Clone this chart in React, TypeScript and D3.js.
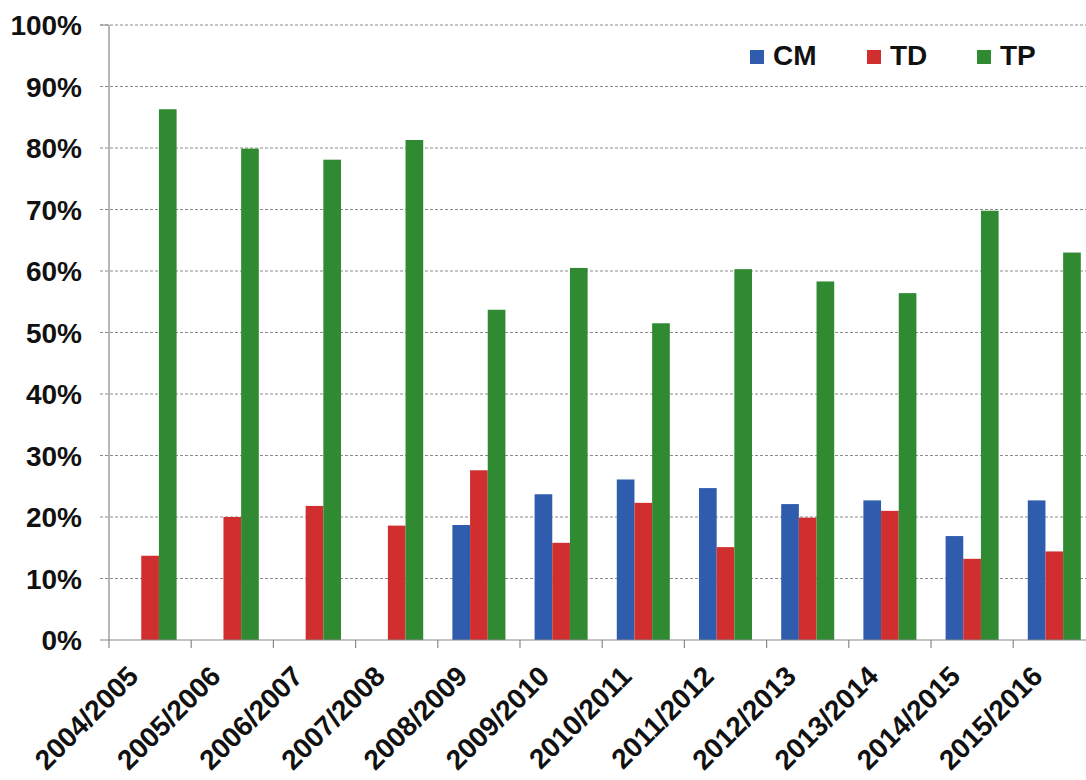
import React, { useEffect, useRef } from "react";
import * as d3 from "d3";

const categories = ["2004/2005","2005/2006","2006/2007","2007/2008","2008/2009","2009/2010","2010/2011","2011/2012","2012/2013","2013/2014","2014/2015","2015/2016"];
const seriesNames = ["CM", "TD", "TP"];
const cmValues = [null, null, null, null, 18.7, 23.7, 26.1, 24.7, 22.1, 22.7, 16.9, 22.7];
const tdValues = [13.7, 20.0, 21.8, 18.6, 27.6, 15.8, 22.3, 15.1, 19.9, 21.0, 13.2, 14.4];
const tpValues = [86.3, 79.9, 78.1, 81.3, 53.7, 60.5, 51.5, 60.3, 58.3, 56.4, 69.8, 63.0];
const yTicks = [0, 10, 20, 30, 40, 50, 60, 70, 80, 90, 100];
const colors = ["#2F5CAD", "#D12F2F", "#2F8A32"];

export default function App() {
  const ref = useRef<SVGSVGElement>(null);
  useEffect(() => {
    const svg = d3.select(ref.current);
    svg.selectAll("*").remove();
    const left = 109, top = 25, bottom = 640;
    const bandW = 82.2;
    const right = left + bandW * categories.length;
    const x = d3.scaleBand().domain(categories).range([left, right]).paddingInner(0).paddingOuter(0);
    const y = d3.scaleLinear().domain([0, 100]).range([bottom, top]);
    const font = "'Liberation Sans', Arial, sans-serif";

    // gridlines
    svg.append("g").selectAll("line").data(yTicks.filter(t => t > 0)).join("line")
      .attr("x1", left - 9).attr("x2", 1086)
      .attr("y1", d => y(d)).attr("y2", d => y(d))
      .attr("stroke", "#8a8a8a").attr("stroke-width", 1).attr("stroke-dasharray", "3,2");

    // y labels
    svg.append("g").selectAll("text").data(yTicks).join("text")
      .attr("x", 82).attr("y", d => y(d)).attr("dy", "0.36em")
      .attr("text-anchor", "end").attr("font-family", font).attr("font-weight", "bold")
      .attr("font-size", 28).attr("fill", "#111")
      .text(d => d + "%");

    // bars
    const sub = d3.scaleBand().domain(seriesNames).range([0, bandW * 0.645]).padding(0);
    const offset = (bandW - bandW * 0.645) / 2;
    const all = [cmValues, tdValues, tpValues];
    all.forEach((vals, si) => {
      svg.append("g").selectAll("rect").data(vals.map((v, i) => ({ v, c: categories[i] })).filter(d => d.v != null)).join("rect")
        .attr("x", d => (x(d.c) as number) + offset + (sub(seriesNames[si]) as number))
        .attr("width", sub.bandwidth())
        .attr("y", d => y(d.v as number))
        .attr("height", d => bottom - y(d.v as number))
        .attr("fill", colors[si]);
    });

    // axes lines
    svg.append("line").attr("x1", left).attr("x2", left).attr("y1", top).attr("y2", bottom + 8)
      .attr("stroke", "#888").attr("stroke-width", 1.2);
    svg.append("line").attr("x1", left - 9).attr("x2", 1086).attr("y1", bottom).attr("y2", bottom)
      .attr("stroke", "#888").attr("stroke-width", 1.2);
    svg.append("line").attr("x1", left - 9).attr("x2", left).attr("y1", top).attr("y2", top)
      .attr("stroke", "#888").attr("stroke-width", 1);
    svg.append("g").selectAll("line").data(categories).join("line")
      .attr("x1", d => (x(d) as number) + bandW).attr("x2", d => (x(d) as number) + bandW)
      .attr("y1", bottom).attr("y2", bottom + 8)
      .attr("stroke", "#888").attr("stroke-width", 1.2);

    // x labels
    svg.append("g").selectAll("text").data(categories).join("text")
      .attr("transform", d => `translate(${(x(d) as number) + bandW / 2 - 10},${678}) rotate(-45)`)
      .attr("text-anchor", "end").attr("font-family", font).attr("font-weight", "bold")
      .attr("font-size", 28).attr("fill", "#111")
      .text(d => d);

    // legend
    const legX = [750, 867, 977];
    seriesNames.forEach((n, i) => {
      svg.append("rect").attr("x", legX[i]).attr("y", 50).attr("width", 14).attr("height", 14).attr("fill", colors[i]);
      svg.append("text").attr("x", legX[i] + 23).attr("y", 65)
        .attr("font-family", font).attr("font-weight", "bold").attr("font-size", 28).attr("fill", "#111")
        .text(n);
    });
  }, []);
  return (
    <svg ref={ref} width={1086} height={780} style={{ position: "absolute", left: 0, top: 0, background: "#fff" }} />
  );
}
